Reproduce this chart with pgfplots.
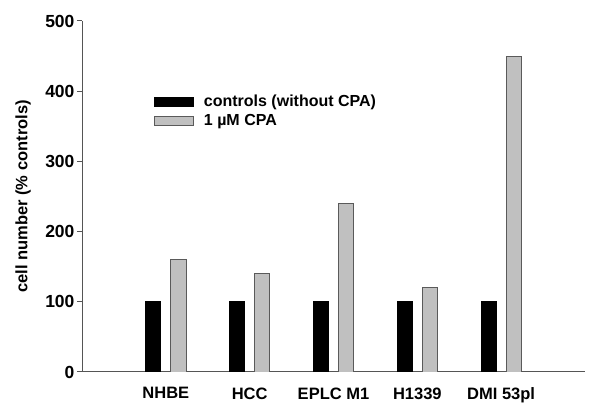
\documentclass[border=0pt]{standalone}
\usepackage{pgfplots}
\pgfplotsset{compat=1.18}
\usepackage{fontspec}
\setmainfont{Liberation Sans}
\definecolor{axgray}{HTML}{555555}
\definecolor{barfill}{HTML}{C0C0C0}
\definecolor{baredge}{HTML}{5A5A5A}
\begin{document}
\begin{tikzpicture}[font=\fontsize{16}{19}\selectfont\bfseries]
\useasboundingbox (0,0) rectangle (600pt,420pt);
\begin{axis}[
  at={(82pt,48pt)}, anchor=south west,
  scale only axis, width=503pt, height=351pt,
  xmin=-1, xmax=5, ymin=0, ymax=500,
  axis x line=bottom, axis y line=left,
  axis line style={-, draw=axgray, line width=1pt},
  ytick={0,100,200,300,400,500},
  xtick={0,1,2,3,4},
  xticklabels={NHBE,HCC,EPLC M1,H1339,DMI 53pl},
  x tick style={draw=none},
  y tick style={draw=axgray, line width=1pt},
  tick align=outside, major tick length=5pt,
  xticklabel style={font=\fontsize{16.5}{19}\selectfont\bfseries, yshift=-7pt},
  yticklabel style={font=\fontsize{17.5}{20}\selectfont\bfseries, xshift=1pt},
  /pgf/number format/assume math mode=true,
  ylabel={cell number (\% controls)},
  every axis y label/.style={at={(axis description cs:-0.117,0.5)}, rotate=90, anchor=center,
    font=\fontsize{16.5}{19}\selectfont\bfseries},
  ybar, bar width=0.18,
  legend image code/.code={\draw[#1] (0pt,-4.5pt) rectangle (39pt,4.5pt);},
  legend style={draw=none, fill=none, at={(0.143,0.789)}, anchor=north west,
    inner sep=0pt, nodes={inner sep=0pt}, row sep=6pt,
    font=\fontsize{16}{19}\selectfont\bfseries,
    /tikz/every odd column/.append style={column sep=10pt}},
  legend cell align=left,
]
\addplot[bar shift=-0.15, fill=black, draw=black, line width=0.8pt] coordinates {(0,100) (1,100) (2,100) (3,100) (4,100)};
\addplot[bar shift=0.15, fill=barfill, draw=baredge, line width=0.8pt] coordinates {(0,160) (1,140) (2,240) (3,120) (4,450)};
\legend{controls (without CPA), 1 µM CPA}
\end{axis}
\end{tikzpicture}
\end{document}
